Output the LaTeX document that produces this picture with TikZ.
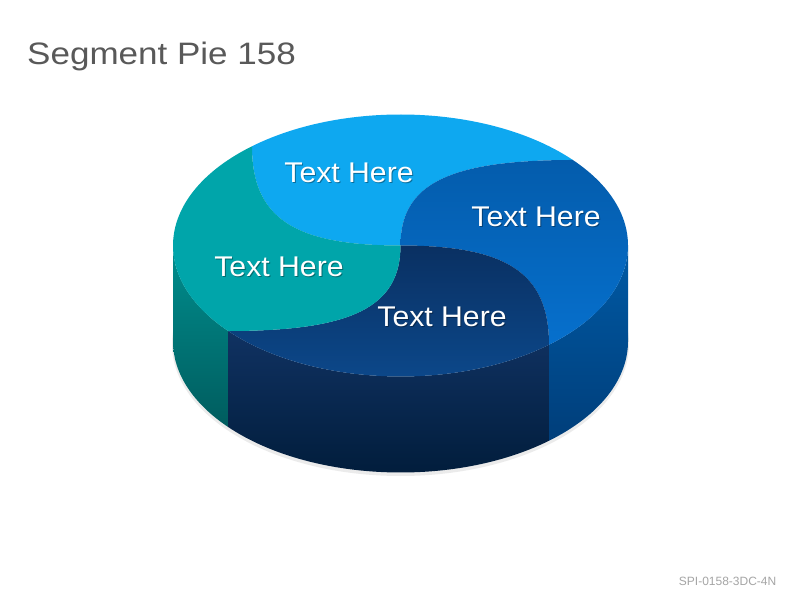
\documentclass[tikz,border=0pt]{standalone}
\usepackage{fontspec}
\setmainfont{Liberation Sans}
\newfontfamily\titlefont[FakeStretch=1.13]{Liberation Sans}
\newfontfamily\lblfont[FakeStretch=1.06]{Liberation Sans}
\usetikzlibrary{calc}

\definecolor{lblueTop}{RGB}{14,168,240}
\definecolor{tealTop}{RGB}{0,165,170}
\definecolor{blueTopA}{RGB}{4,92,172}
\definecolor{blueTopB}{RGB}{6,112,205}
\definecolor{navyTopA}{RGB}{10,48,98}
\definecolor{navyTopB}{RGB}{12,74,142}
\definecolor{tealSideA}{RGB}{0,142,142}
\definecolor{tealSideB}{RGB}{0,92,94}
\definecolor{navySideA}{RGB}{16,50,98}
\definecolor{navySideB}{RGB}{0,27,56}
\definecolor{blueSideA}{RGB}{0,90,165}
\definecolor{blueSideB}{RGB}{0,62,122}
\definecolor{titleGray}{RGB}{89,89,89}
\definecolor{footGray}{RGB}{165,165,165}

\tikzset{
  ell/.style={x radius=227.5pt, y radius=131pt},
  lbl/.style={anchor=base, text=white, inner sep=0pt, font=\lblfont\fontsize{28.5}{34}\selectfont},
  lblsh/.style={lbl, text=black, opacity=0.35},
}

\begin{document}
\begin{tikzpicture}[x=1pt,y=1pt]
\useasboundingbox (0,0) rectangle (800,600);
\fill[white] (0,0) rectangle (800,600);

% geometry
\coordinate (C) at (400.5,354.5);
\coordinate (B) at (400.5,258.5);
\coordinate (O) at (C);
\coordinate (P1) at ($(C)+(130.75:227.5pt and 131pt)$);
\coordinate (P2) at ($(C)+(40.75:227.5pt and 131pt)$);
\coordinate (P3) at ($(C)+(-49.25:227.5pt and 131pt)$);
\coordinate (P4) at ($(C)+(-139.25:227.5pt and 131pt)$);
\coordinate (L) at ($(C)+(-227.5,0)$);
\coordinate (R) at ($(C)+(227.5,0)$);
\coordinate (P3b) at ($(P3)+(0,-96)$);
\coordinate (P4b) at ($(P4)+(0,-96)$);
\coordinate (Lb) at ($(L)+(0,-96)$);
\coordinate (Rb) at ($(R)+(0,-96)$);

% control points of the swirl curves
\coordinate (K1) at (O -| P1);
\coordinate (K2) at (O |- P2);
\coordinate (K3) at (O -| P3);
\coordinate (K4) at (O |- P4);
\coordinate (A1) at ($(O)!0.72!(K1)$); \coordinate (E1) at ($(P1)!0.72!(K1)$);
\coordinate (A2) at ($(O)!0.72!(K2)$); \coordinate (E2) at ($(P2)!0.72!(K2)$);
\coordinate (A3) at ($(O)!0.72!(K3)$); \coordinate (E3) at ($(P3)!0.72!(K3)$);
\coordinate (A4) at ($(O)!0.72!(K4)$); \coordinate (E4) at ($(P4)!0.72!(K4)$);

% faint drop shadow
\fill[black, opacity=0.08] ($(B)+(0,-2.5)$) ellipse[x radius=228.5pt, y radius=132pt];

% side walls
\shade[top color=tealSideA, bottom color=tealSideB]
  (L) arc[ell, start angle=180, end angle=220.75] -- (P4b)
  arc[ell, start angle=220.75, end angle=180] -- cycle;
\shade[top color=navySideA, bottom color=navySideB]
  (P4) arc[ell, start angle=220.75, end angle=310.75] -- (P3b)
  arc[ell, start angle=310.75, end angle=220.75] -- cycle;
\shade[top color=blueSideA, bottom color=blueSideB]
  (P3) arc[ell, start angle=310.75, end angle=360] -- (Rb)
  arc[ell, start angle=360, end angle=310.75] -- cycle;

% top segments
\fill[lblueTop]
  (O) .. controls (A1) and (E1) .. (P1)
  arc[ell, start angle=130.75, end angle=40.75]
  .. controls (E2) and (A2) .. (O) -- cycle;
\shade[top color=blueTopA, bottom color=blueTopB]
  (O) .. controls (A2) and (E2) .. (P2)
  arc[ell, start angle=40.75, end angle=-49.25]
  .. controls (E3) and (A3) .. (O) -- cycle;
\shade[top color=navyTopA, bottom color=navyTopB]
  (O) .. controls (A3) and (E3) .. (P3)
  arc[ell, start angle=-49.25, end angle=-139.25]
  .. controls (E4) and (A4) .. (O) -- cycle;
\fill[tealTop]
  (O) .. controls (A4) and (E4) .. (P4)
  arc[ell, start angle=-139.25, end angle=-229.25]
  .. controls (E1) and (A1) .. (O) -- cycle;

% labels
\node[lblsh] (t1s) at (350,416) {Text Here};
\node[lbl]   (t1)  at (349,417.3) {Text Here};
\node[lblsh] (t2s) at (537,372) {Text Here};
\node[lbl]   (t2)  at (536,373.3) {Text Here};
\node[lblsh] (t3s) at (280,322) {Text Here};
\node[lbl]   (t3)  at (279,323.3) {Text Here};
\node[lblsh] (t4s) at (443,272) {Text Here};
\node[lbl]   (t4)  at (442,273.3) {Text Here};

% title and footer
\node[anchor=base west, inner sep=0pt, text=titleGray, font=\titlefont\fontsize{31}{37}\selectfont] (title) at (27,535.7) {Segment Pie 158};
\node[anchor=base east, inner sep=0pt, text=footGray, font=\fontsize{12}{14}\selectfont] (foot) at (776.5,15) {SPI-0158-3DC-4N};
\end{tikzpicture}
\end{document}
